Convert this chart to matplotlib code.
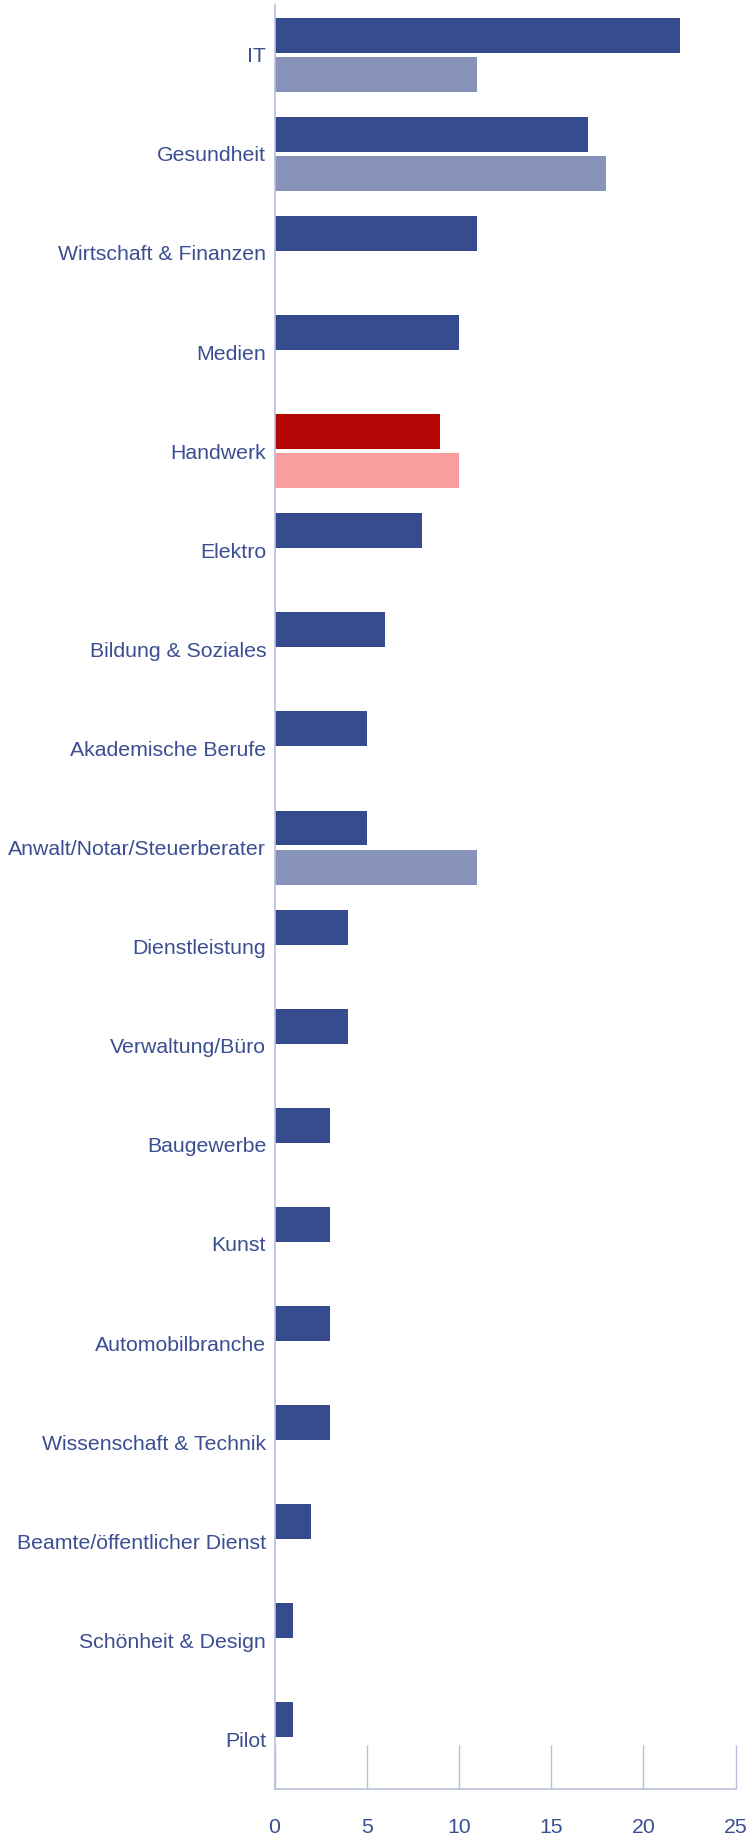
import matplotlib
matplotlib.use("Agg")
import matplotlib.pyplot as plt
import numpy as np

categories = ["IT", "Gesundheit", "Wirtschaft & Finanzen", "Medien", "Handwerk",
              "Elektro", "Bildung & Soziales", "Akademische Berufe",
              "Anwalt/Notar/Steuerberater", "Dienstleistung", "Verwaltung/Büro",
              "Baugewerbe", "Kunst", "Automobilbranche", "Wissenschaft & Technik",
              "Beamte/öffentlicher Dienst", "Schönheit & Design", "Pilot"]
series_a = [22, 17, 11, 10, 9, 8, 6, 5, 5, 4, 4, 3, 3, 3, 3, 2, 1, 1]
series_b = [11, 18, 0, 0, 10, 0, 0, 0, 11, 0, 0, 0, 0, 0, 0, 0, 0, 0]
highlight = "Handwerk"
x_ticks = [0, 5, 10, 15, 20, 25]

DARK = "#364c8f"
LIGHT = "#8893bb"
RED = "#b50606"
PINK = "#f99e9e"
TEXT = "#3b4e92"
AXIS = "#b9c0dc"

plt.rcParams['font.family'] = ['Liberation Sans', 'DejaVu Sans']

fig = plt.figure(figsize=(7.49, 18.36), dpi=100)
ax = fig.add_axes([0.3665, 0.0256, 0.6156, 0.9716])

y = np.arange(len(categories))
h = 0.353
off = 0.197
cols_a = [RED if c == highlight else DARK for c in categories]
cols_b = [PINK if c == highlight else LIGHT for c in categories]
ax.barh(y - off, series_a, height=h, color=cols_a, linewidth=0)
ax.barh(y + off, series_b, height=h, color=cols_b, linewidth=0)

ax.set_ylim(len(categories) - 0.5, -0.5)
ax.set_xlim(0, 25)
ax.set_yticks(y)
ax.set_yticklabels(categories)
ax.set_xticks(x_ticks)
ax.set_xticklabels([str(t) for t in x_ticks])

ax.tick_params(axis='y', length=0, pad=6, labelsize=15.3, labelcolor=TEXT)
ax.tick_params(axis='x', direction='in', length=31.7, width=1, color=AXIS,
               pad=21, labelsize=15.3, labelcolor=TEXT)

for s in ['top', 'right']:
    ax.spines[s].set_visible(False)
for s in ['left', 'bottom']:
    ax.spines[s].set_color(AXIS)
    ax.spines[s].set_linewidth(1.2)

fig.savefig("out.png", dpi=100)
